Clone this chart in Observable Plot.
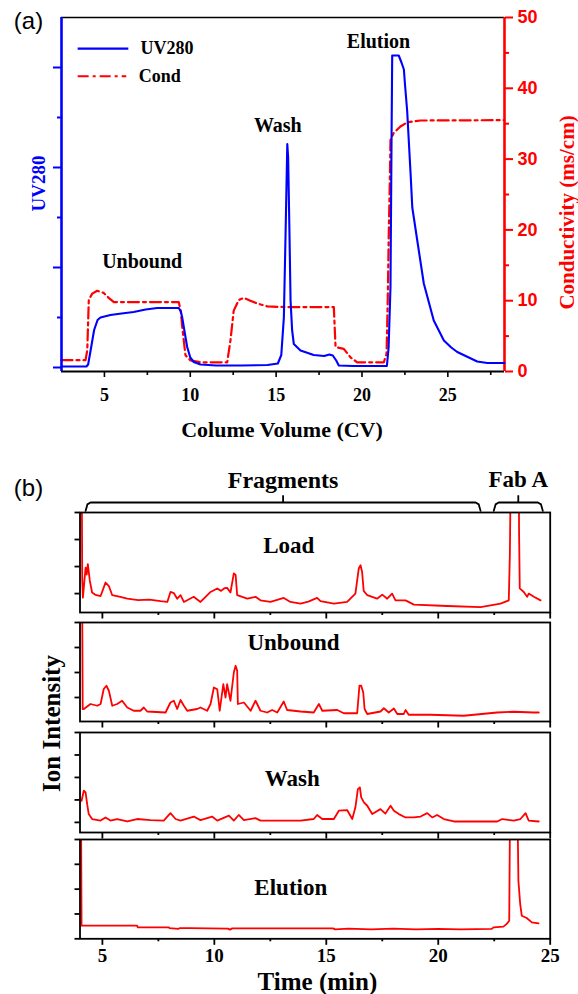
<!DOCTYPE html>
<html>
<head>
<meta charset="utf-8">
<script src="https://cdn.jsdelivr.net/npm/d3@7"></script>
<script src="https://cdn.jsdelivr.net/npm/@observablehq/plot@0.6"></script>
<style>
  html, body { margin: 0; padding: 0; background: #fff; }
  #fig { position: relative; width: 578px; height: 994px; background: #fff; overflow: hidden; }
  #fig svg { display: block; }
</style>
</head>
<body>
<div id="fig"></div>
<script>
// ---------------- DATA ----------------
// (a) UV280 trace: [column volume (CV), UV280 absorbance (mAU)]
const uvTrace = [
  [2.5,2],[3.95,2],[4.05,6],[4.2,35],[4.4,75],[4.6,95],[4.77,100],[5.35,105],[6.0,108],[6.7,111],
  [7.4,116],[8.07,119],[9.33,119],[9.45,112],[9.53,100],[9.65,75],[9.82,41],[10.0,20],[10.2,11],
  [10.6,6],[11.5,4],[13.0,4],[14.5,5],[15.1,8],[15.3,25],[15.45,100],[15.55,268],[15.65,447],
  [15.7,420],[15.78,261],[15.84,134],[15.93,75],[16.03,47],[16.42,34],[17.19,25],[17.8,23],
  [18.1,26],[18.3,24],[18.5,14],[18.65,4],[19.5,3],[21.45,3],[21.55,40],[21.66,161],[21.72,450],
  [21.76,624],[22.14,624],[22.3,610],[22.44,596],[22.5,568],[22.63,514],[22.83,388],[22.93,320],
  [23.22,254],[23.6,168],[24.18,94],[24.77,54],[25.2,40],[25.55,31],[26.1,22],[26.71,12],[27.3,9],[28.3,9]
];
// (a) Conductivity trace: [CV, conductivity (ms/cm)]
const condTrace = [
  [2.5,1.6],[3.9,1.6],[4.0,3],[4.09,10.1],[4.29,11.0],[4.58,11.4],[4.96,11.1],[5.25,10.4],[5.55,9.8],
  [9.33,9.8],[9.45,8.5],[9.53,6.3],[9.72,2.3],[10.01,1.56],[10.6,1.3],[12.15,1.3],[12.34,4.4],
  [12.53,8.6],[12.83,10.1],[13.12,10.4],[13.5,10.0],[13.9,9.6],[14.48,9.2],[15.5,9.1],[18.36,9.1],
  [18.46,3.45],[18.94,3.2],[19.33,2.0],[19.72,1.3],[21.27,1.3],[21.43,2.5],[21.5,10],[21.56,19.5],
  [21.62,26.6],[21.66,32.7],[21.85,33.7],[22.24,34.6],[22.63,35.2],[23.41,35.45],[28.3,35.5]
];
const cvMajor = [5, 10, 15, 20, 25];
const cvMinor = [7.5, 12.5, 17.5, 22.5, 27.5];
const condMajor = [0, 10, 20, 30, 40, 50];
const condMinor = [5, 15, 25, 35, 45];
const uvMajor = [0, 200, 400, 600];
const uvMinor = [100, 300, 500];
const legendLabels = ["UV280", "Cond"];
const peakLabels = ["Unbound", "Wash", "Elution"];

// (b) Ion intensity traces: [time (min), relative intensity]
const loadTrace = [
  [4.02,4],[4.08,4],[4.1,0.5],[4.13,-0.15],[4.2,0.5],[4.25,0.96],[4.3,0.7],[4.35,1.09],[4.44,0.47],
  [4.54,0.04],[4.7,-0.05],[4.92,-0.09],[5.05,0.2],[5.14,0.41],[5.29,0.28],[5.44,-0.06],[5.8,-0.12],
  [6.11,-0.19],[6.6,-0.24],[7.1,-0.22],[7.6,-0.28],[7.9,-0.31],[8.04,0.06],[8.19,0.02],[8.34,-0.19],
  [8.49,-0.06],[8.64,-0.31],[9.08,-0.12],[9.38,-0.31],[9.61,-0.12],[9.83,0.06],[10.13,0.19],[10.3,0.1],
  [10.45,0.2],[10.57,0.21],[10.72,0.04],[10.87,0.75],[10.95,0.69],[11.02,-0.06],[11.47,-0.19],
  [11.84,-0.12],[12.06,-0.25],[12.51,-0.31],[13.1,-0.16],[13.4,-0.31],[13.85,-0.37],[14.2,-0.3],
  [14.59,-0.16],[14.74,-0.28],[15.34,-0.37],[15.93,-0.31],[16.3,0.0],[16.45,0.93],[16.53,1.05],
  [16.6,0.8],[16.67,0.1],[16.83,-0.06],[17.27,-0.19],[17.5,-0.04],[17.72,-0.19],[17.94,0.0],
  [18.09,-0.25],[18.54,-0.25],[18.91,-0.41],[20.4,-0.46],[21.89,-0.5],[22.78,-0.37],[23.15,-0.25],
  [23.2,1.5],[23.23,4],[23.6,4],[23.61,2.26],[23.64,0.19],[23.82,0.06],[23.97,-0.12],[24.04,0.0],
  [24.27,-0.12],[24.57,-0.25]
];
const unboundTrace = [
  [4.03,3.5],[4.1,3.5],[4.12,-0.46],[4.17,-0.46],[4.47,-0.26],[4.77,-0.33],[4.92,-0.26],[5.06,0.34],
  [5.18,0.47],[5.29,0.27],[5.44,-0.33],[5.66,-0.26],[5.88,-0.13],[6.11,-0.4],[6.4,-0.53],[6.7,-0.53],
  [6.85,-0.4],[7.0,-0.56],[7.82,-0.6],[8.04,-0.2],[8.19,-0.13],[8.34,-0.46],[8.49,-0.1],[8.64,-0.33],
  [8.79,-0.53],[9.23,-0.46],[9.38,-0.4],[9.68,-0.53],[9.83,-0.26],[9.98,0.4],[10.13,0.33],[10.24,-0.53],
  [10.4,0.53],[10.5,0.0],[10.57,0.53],[10.72,-0.13],[10.87,1.0],[10.95,1.27],[11.02,1.07],[11.05,-0.26],
  [11.32,-0.2],[11.62,-0.53],[11.84,-0.13],[12.06,-0.53],[12.36,-0.6],[12.58,-0.5],[12.81,-0.6],
  [13.1,-0.16],[13.25,-0.5],[13.85,-0.56],[14.44,-0.6],[14.67,-0.26],[14.82,-0.53],[15.49,-0.5],
  [15.78,-0.63],[16.38,-0.63],[16.48,0.47],[16.56,0.47],[16.65,0.2],[16.71,-0.46],[16.83,-0.66],
  [17.42,-0.56],[17.57,-0.43],[17.79,-0.6],[18.02,-0.44],[18.17,-0.66],[18.46,-0.66],[18.54,-0.5],
  [18.68,-0.69],[19.65,-0.69],[21.14,-0.73],[22.63,-0.6],[23.37,-0.57],[24.27,-0.6],[24.49,-0.6]
];
const washTrace = [
  [4.07,0.96],[4.17,1.41],[4.25,1.33],[4.32,0.81],[4.39,0.37],[4.54,0.15],[4.92,0.08],[5.14,0.22],
  [5.36,0.08],[5.66,0.15],[6.11,0.04],[6.55,0.15],[7.15,0.1],[7.74,0.08],[8.04,0.41],[8.27,0.15],
  [8.49,0.08],[9.08,0.26],[9.38,0.1],[9.9,0.26],[10.13,0.08],[10.65,0.3],[10.87,0.08],[11.09,0.33],
  [11.32,0.1],[11.84,0.19],[12.06,0.08],[13.85,0.08],[14.44,0.15],[14.59,0.33],[14.82,0.15],
  [15.34,0.15],[15.56,0.52],[15.93,0.55],[16.16,0.15],[16.3,0.67],[16.41,1.48],[16.5,1.56],
  [16.56,1.11],[16.68,0.89],[16.83,0.74],[17.05,0.37],[17.42,0.59],[17.64,0.39],[17.87,0.74],
  [18.02,0.52],[18.24,0.37],[18.54,0.22],[18.91,0.22],[19.21,0.26],[19.51,0.41],[19.73,0.22],
  [19.95,0.33],[20.25,0.15],[20.7,0.04],[22.63,0.04],[22.86,0.15],[23.37,0.08],[23.67,0.15],
  [23.9,0.41],[24.04,0.08],[24.49,0.04]
];
const elutionTrace = [
  [4.02,4.5],[4.05,4.5],[4.07,0.53],[5.5,0.53],[6.55,0.53],[6.58,0.46],[7.97,0.46],[8.0,0.43],
  [8.4,0.4],[8.45,0.43],[8.9,0.43],[10.6,0.41],[10.7,0.37],[10.8,0.42],[15.3,0.42],[15.4,0.38],
  [16,0.41],[17,0.38],[18,0.41],[19,0.38],[20,0.4],[21,0.38],[22.39,0.4],[22.47,0.46],[22.91,0.49],
  [23.06,0.6],[23.17,0.73],[23.2,4.5],[23.55,4.5],[23.58,2.33],[23.66,1.4],[23.73,0.93],[23.95,0.84],
  [24.18,0.66],[24.48,0.62]
];
const timeMajor = [5, 10, 15, 20, 25];
const timeMinor = [7.5, 12.5, 17.5, 22.5];
const panelNames = ["Load", "Unbound", "Wash", "Elution"];
const bracketLabels = ["Fragments", "Fab A"];
const bracketRanges = [[4.25, 21.89], [22.48, 24.67]];

// ---------------- STYLE ----------------
const SERIF = "'Liberation Serif','Times New Roman',Times,serif";
const SANS = "'Liberation Sans',Arial,Helvetica,sans-serif";
const BLUE = "#0000ff", RED = "#ff0000", BLACK = "#000000";
const px = d => d[0], py = d => d[1];
const C = {textAnchor: "middle", lineAnchor: "middle"};
const fig = document.getElementById("fig");
function place(svg, top, h) {
  const d = document.createElement("div");
  d.style.cssText = `position:absolute;left:0;top:${top}px;width:578px;height:${h}px;`;
  d.appendChild(svg);
  fig.appendChild(d);
}
const noLabel = () => "";

// ---------------- (a) ----------------
const xTop = [2.5, 28.3];
const topBase = {
  width: 578, height: 460, marginLeft: 61, marginRight: 74, marginTop: 17, marginBottom: 89,
  style: {background: "transparent", overflow: "visible", fontFamily: SERIF}
};

const condPlot = Plot.plot({
  ...topBase,
  x: {domain: xTop},
  y: {domain: [0, 50]},
  marks: [
    Plot.ruleY([50], {stroke: BLACK, strokeWidth: 1.5}),
    Plot.axisX(cvMajor, {tickSize: 6, tickPadding: 11, fontSize: 18, fontWeight: "bold", fontFamily: SERIF,
      fill: BLACK, stroke: BLACK, strokeWidth: 1.6, label: null}),
    Plot.axisX(cvMinor, {tickSize: 4, tickFormat: noLabel, stroke: BLACK, strokeWidth: 1.6, label: null}),
    Plot.ruleY([0], {stroke: BLACK, strokeWidth: 2}),
    Plot.axisY(condMajor, {anchor: "right", tickSize: 8, tickPadding: 5, fontSize: 18, fontWeight: "bold",
      fontFamily: SANS, fill: RED, stroke: RED, strokeWidth: 2, label: null}),
    Plot.axisY(condMinor, {anchor: "right", tickSize: 4, tickFormat: noLabel, stroke: RED, strokeWidth: 2, label: null}),
    Plot.ruleX([xTop[1]], {stroke: RED, strokeWidth: 2.6}),
    Plot.line(condTrace, {x: px, y: py, stroke: RED, strokeWidth: 2.2, strokeDasharray: "11,4,3,4"}),
    // legend
    Plot.ruleY([45.6], {x1: 3.47, x2: 6.42, stroke: BLUE, strokeWidth: 2.2}),
    Plot.ruleY([41.7], {x1: 3.47, x2: 6.3, stroke: RED, strokeWidth: 2.2, strokeDasharray: "11,4,3,4"}),
    Plot.text([legendLabels[0]], {x: 7.1, y: 45.6, textAnchor: "start", lineAnchor: "middle", fontSize: 18, fontWeight: "bold", fontFamily: SERIF, fill: BLACK}),
    Plot.text([legendLabels[1]], {x: 7.0, y: 41.7, textAnchor: "start", lineAnchor: "middle", fontSize: 18, fontWeight: "bold", fontFamily: SERIF, fill: BLACK}),
    // peak annotations
    Plot.text([peakLabels[0]], {...C, x: 7.2, y: 15.5, fontSize: 20, fontWeight: "bold", fontFamily: SERIF, fill: BLACK}),
    Plot.text([peakLabels[1]], {...C, x: 15.1, y: 34.8, fontSize: 20, fontWeight: "bold", fontFamily: SERIF, fill: BLACK}),
    Plot.text([peakLabels[2]], {...C, x: 20.96, y: 46.6, fontSize: 20, fontWeight: "bold", fontFamily: SERIF, fill: BLACK}),
    // axis titles
    Plot.text(["Colume Volume (CV)"], {...C, frameAnchor: "bottom", dx: -1, dy: 58, fontSize: 22, fontWeight: "bold", fontFamily: SERIF, fill: BLACK}),
    Plot.text(["Conductivity (ms/cm)"], {...C, frameAnchor: "right", dx: 63, dy: 18, rotate: -90, fontSize: 21, fontWeight: "bold", fontFamily: SERIF, fill: RED}),
    Plot.text(["(a)"], {...C, frameAnchor: "top-left", dx: -33, dy: 4, fontSize: 24, fontFamily: SANS, fill: BLACK})
  ]
});

const uvPlot = Plot.plot({
  ...topBase,
  x: {domain: xTop, axis: null},
  y: {domain: [-8, 700]},
  marks: [
    Plot.axisY(uvMajor, {anchor: "left", tickSize: 8, tickFormat: noLabel, stroke: BLUE, strokeWidth: 2, label: null}),
    Plot.axisY(uvMinor, {anchor: "left", tickSize: 4, tickFormat: noLabel, stroke: BLUE, strokeWidth: 2, label: null}),
    Plot.ruleX([xTop[0]], {stroke: BLUE, strokeWidth: 2.6}),
    Plot.line(uvTrace, {x: px, y: py, stroke: BLUE, strokeWidth: 2.1}),
    Plot.text(["UV280"], {...C, frameAnchor: "left", dx: -22.6, dy: -11, rotate: -90, fontSize: 19, fontWeight: "bold", fontFamily: SERIF, fill: BLUE})
  ]
});

place(condPlot, 0, 460);
place(uvPlot, 0, 460);

// ---------------- (b) ----------------
const BOT_TOP = 460, BOT_H = 534;
const timeDomain = [4, 25];
const mid = r => (r[0] + r[1]) / 2;
const bracketPath = ([a, b]) => [[a, 3.06], [a + 0.08, 3.3], [a + 0.22, 3.37], [b - 0.22, 3.37], [b - 0.08, 3.3], [b, 3.06]];

function panel({trace, yDomain, yTicks, top, bottom, label, labelDx, labelDy, xLabels, extra = []}) {
  return Plot.plot({
    width: 578, height: BOT_H, marginLeft: 79.5, marginRight: 28.3,
    marginTop: top - BOT_TOP, marginBottom: BOT_TOP + BOT_H - bottom,
    style: {background: "transparent", overflow: "visible", fontFamily: SERIF},
    x: {domain: timeDomain},
    y: {domain: yDomain},
    marks: [
      Plot.axisX(timeMajor, {tickSize: 6.5, tickPadding: 3, tickFormat: xLabels ? (d => String(d)) : noLabel,
        fontSize: 19, fontWeight: "bold", fontFamily: SERIF, fill: BLACK, stroke: BLACK, strokeWidth: 1.8, label: null}),
      Plot.axisX(timeMinor, {tickSize: 3, tickFormat: noLabel, stroke: BLACK, strokeWidth: 1.8, label: null}),
      Plot.axisY(yTicks, {tickSize: 5, tickFormat: noLabel, stroke: BLACK, strokeWidth: 1.8, label: null}),
      Plot.line(trace, {x: px, y: py, stroke: RED, strokeWidth: 1.8, clip: true}),
      Plot.frame({stroke: BLACK, strokeWidth: 1.8}),
      Plot.text([label], {...C, frameAnchor: "top", dx: labelDx, dy: labelDy, fontSize: 23, fontWeight: "bold", fontFamily: SERIF, fill: BLACK}),
      ...extra
    ]
  });
}

const p1 = panel({
  trace: loadTrace, yDomain: [-0.7, 3], yTicks: [0, 1, 2, 3], top: 512, bottom: 612,
  label: panelNames[0], labelDx: -26.3, labelDy: 33, xLabels: false,
  extra: [
    ...bracketRanges.map(r => Plot.line(bracketPath(r), {x: px, y: py, stroke: BLACK, strokeWidth: 1.8})),
    Plot.ruleX(bracketRanges.map(mid), {y1: 3.37, y2: 3.62, stroke: BLACK, strokeWidth: 1.8}),
    Plot.text([bracketLabels[0]], {...C, x: mid(bracketRanges[0]), y: 4.2, fontSize: 24, fontWeight: "bold", fontFamily: SERIF, fill: BLACK}),
    Plot.text([bracketLabels[1]], {...C, x: mid(bracketRanges[1]), y: 4.2, fontSize: 23, fontWeight: "bold", fontFamily: SERIF, fill: BLACK}),
    Plot.text(["(b)"], {...C, frameAnchor: "top-left", dx: -51.5, dy: -24, fontSize: 24, fontFamily: SANS, fill: BLACK})
  ]
});
const p2 = panel({
  trace: unboundTrace, yDomain: [-0.96, 3], yTicks: [0, 1, 2, 3], top: 622, bottom: 721,
  label: panelNames[1], labelDx: -21.6, labelDy: 20, xLabels: false,
  extra: [
    Plot.text(["Ion Intensity"], {...C, frameAnchor: "left", dx: -28.5, dy: 51.5, rotate: -90, fontSize: 25, fontWeight: "bold", fontFamily: SERIF, fill: BLACK})
  ]
});
const p3 = panel({
  trace: washTrace, yDomain: [-0.45, 4], yTicks: [0, 1, 2, 3, 4], top: 732, bottom: 832,
  label: panelNames[2], labelDx: -22.9, labelDy: 46, xLabels: false
});
const p4 = panel({
  trace: elutionTrace, yDomain: [0, 4], yTicks: [0, 1, 2, 3, 4], top: 839, bottom: 938.3,
  label: panelNames[3], labelDx: -24.3, labelDy: 48.5, xLabels: true,
  extra: [
    Plot.text(["Time (min)"], {...C, frameAnchor: "bottom", dx: 2.3, dy: 43, fontSize: 25, fontWeight: "bold", fontFamily: SERIF, fill: BLACK})
  ]
});

[p1, p2, p3, p4].forEach(p => place(p, BOT_TOP, BOT_H));
</script>
</body>
</html>
